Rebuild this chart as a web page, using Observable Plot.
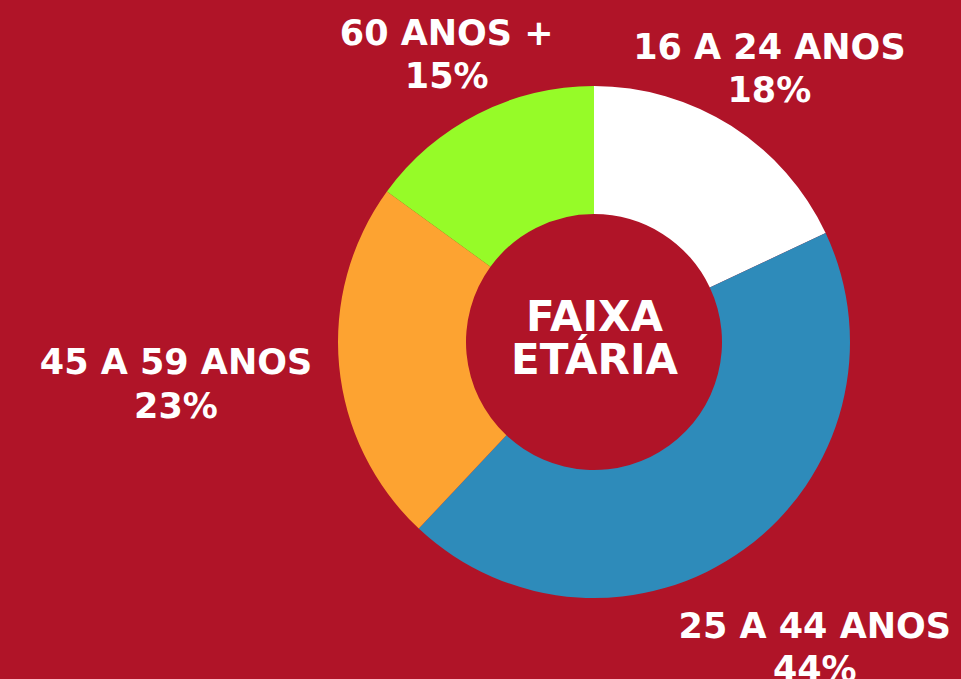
<!DOCTYPE html>
<html><head><meta charset="utf-8">
<script src="https://cdn.jsdelivr.net/npm/d3@7"></script>
<script src="https://cdn.jsdelivr.net/npm/@observablehq/plot@0.6"></script>
<style>html,body{margin:0;padding:0;background:#B01428;overflow:hidden}</style>
</head><body><div id="chart"></div>
<script>
// Data
const ages = ["16 A 24 ANOS", "25 A 44 ANOS", "45 A 59 ANOS", "60 ANOS +"];
const shares = [18, 44, 23, 15];
const colors = ["#FFFFFF", "#2E8BBA", "#FDA331", "#96FB28"];
const centerTitle = "FAIXA\nETÁRIA";

// Layout (label distance from centre, in outer radii)
const labelDist = [1.275, 1.464, 1.642, 1.272];
const innerRatio = 0.5;
const W = 961, H = 679, R = 256, CX = 594, CY = 342;

const pieData = d3.pie().sort(null).value(d => d.share)(ages.map((age, i) => ({age, share: shares[i]})));
const slices = pieData.map((p, i) => ({
  age: p.data.age, share: p.data.share,
  start: p.startAngle, end: p.endAngle,
  mid: (p.startAngle + p.endAngle) / 2, dist: labelDist[i]
}));
const color = Plot.scale({color: {type: "ordinal", domain: ages, range: colors}});

function donut(index, scales) {
  const {x, y} = scales;
  const cx = x(0), cy = y(0), r = x(1) - x(0);
  const arc = d3.arc().innerRadius(r * innerRatio).outerRadius(r);
  const g = d3.create("svg:g").attr("transform", `translate(${cx},${cy})`);
  g.selectAll("path").data(slices).join("path")
    .attr("d", d => arc({startAngle: d.start, endAngle: d.end}))
    .attr("fill", d => color.apply(d.age));
  return g.node();
}

const plot = Plot.plot({
  width: W, height: H, margin: 0,
  x: {domain: [-CX / R, (W - CX) / R], axis: null},
  y: {domain: [-(H - CY) / R, CY / R], axis: null},
  style: {background: "transparent", overflow: "visible"},
  marks: [
    donut,
    Plot.text(slices, {
      x: d => d.dist * Math.sin(d.mid),
      y: d => d.dist * Math.cos(d.mid),
      text: d => `${d.age}\n${d.share}%`,
      fill: "white", fontSize: 35, fontWeight: "bold",
      fontFamily: "DejaVu Sans", lineHeight: 1.24
    }),
    Plot.text([centerTitle], {
      x: () => 0, y: () => 0, text: d => d, dy: -4,
      fill: "white", fontSize: 42, fontWeight: "bold",
      fontFamily: "DejaVu Sans", lineHeight: 1.03
    })
  ]
});
document.getElementById("chart").append(plot);
</script>
</body></html>
